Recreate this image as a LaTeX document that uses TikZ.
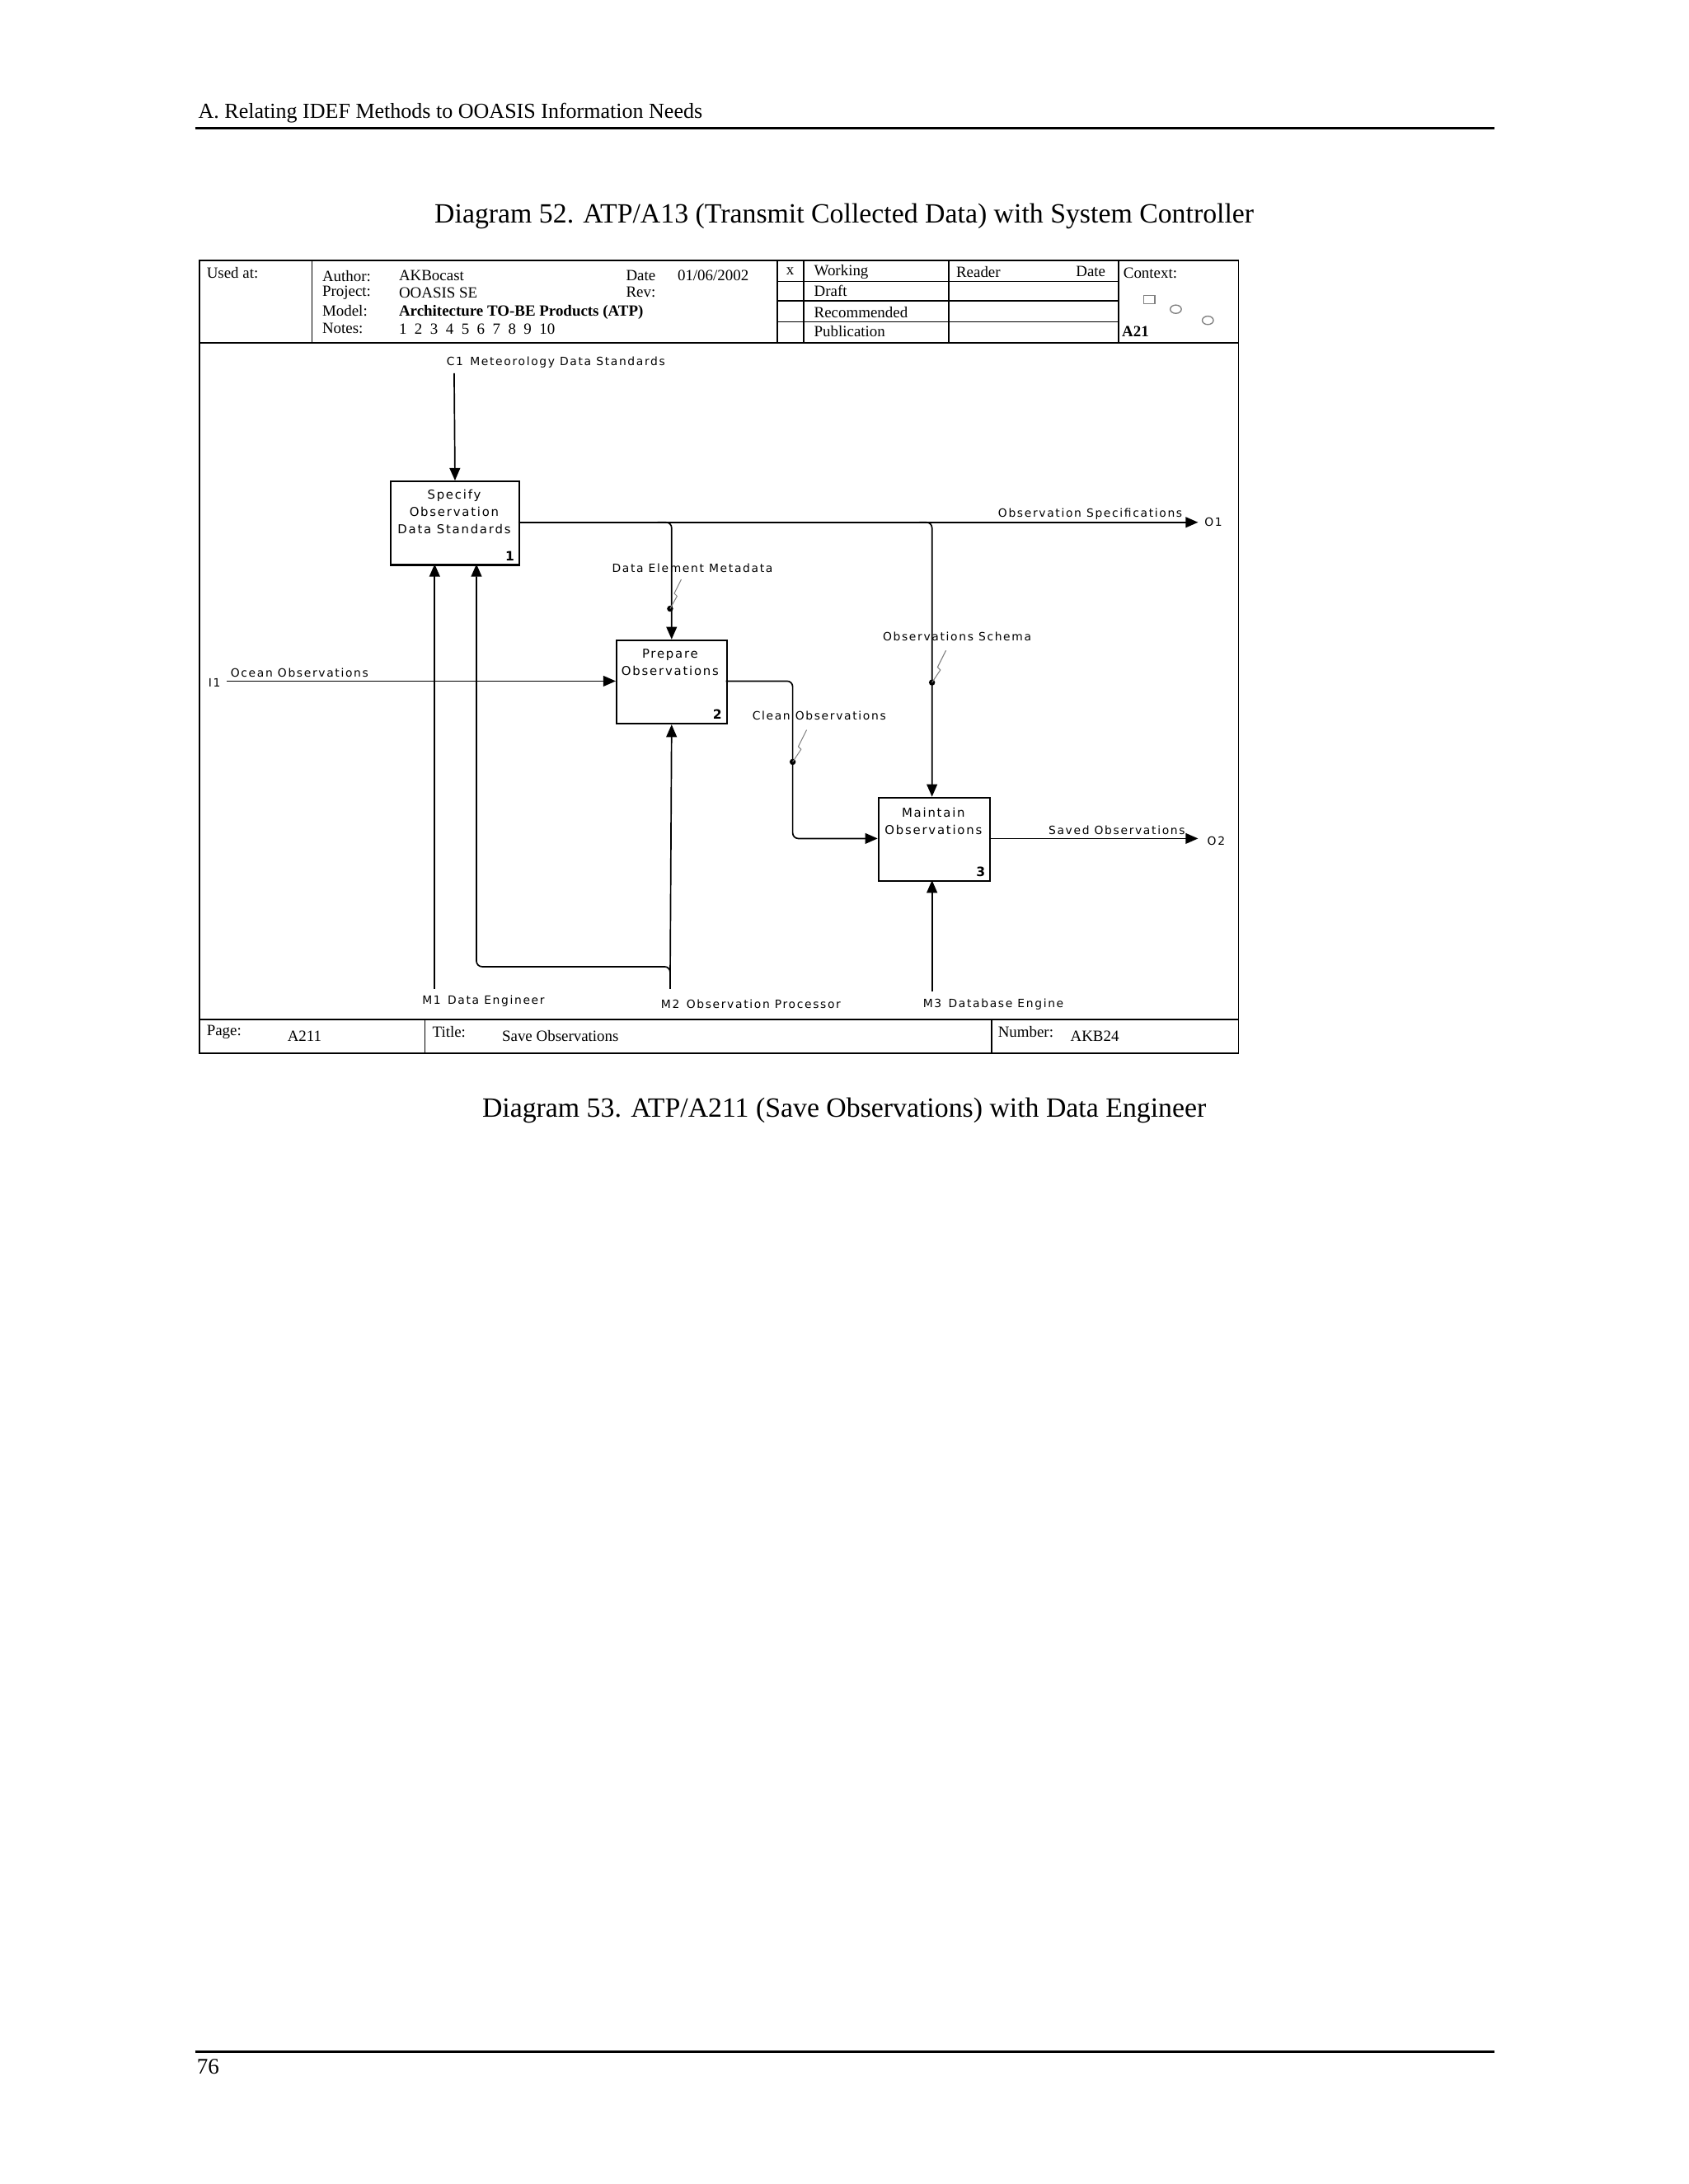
\documentclass[tikz,border=0pt]{standalone}
\usepackage{fontspec}
\setmainfont{Liberation Serif}
\newfontfamily\dia[LetterSpace=12]{DejaVu Sans}
\usetikzlibrary{arrows.meta}
\begin{document}
\begin{tikzpicture}[x=0.5pt,y=-0.5pt,
  frame/.style={line width=0.5pt},
  act/.style={draw,line width=0.6pt,minimum width=40pt,minimum height=30pt,anchor=north west,inner sep=0},
  lab/.style={font=\dia\fontsize{4.1}{5.6}\selectfont,inner sep=0.5pt},
  blab/.style={font=\dia\fontsize{4.4}{6.3}\selectfont,inner sep=0.5pt,align=center},
  num/.style={font=\dia\bfseries\fontsize{4.6}{5}\selectfont,inner sep=0},
  tlab/.style={font=\fontsize{5.6}{6}\selectfont,anchor=west,inner sep=0},
  arr/.style={line width=0.5pt,-{Triangle[length=4.5pt,width=3.8pt]},rounded corners=2pt},
  dot/.style={circle,fill,inner sep=0,minimum size=2.2pt},
  sq/.style={gray,line width=0.3pt}]
\useasboundingbox (0,0) rectangle (1212,1568);
% page header/footer
\node[anchor=west,font=\fontsize{7.7}{9}\selectfont,inner sep=0] (hdr) at (142,81) {A. Relating IDEF Methods to OOASIS Information Needs};
\draw[line width=0.8pt] (140,92) -- (1073,92);
\node[font=\fontsize{10}{12}\selectfont] (cap1) at (606,155) {Diagram 52. ATP/A13 (Transmit Collected Data) with System Controller};
\node[font=\fontsize{10}{12}\selectfont] (cap2) at (606,797) {Diagram 53. ATP/A211 (Save Observations) with Data Engineer};
\draw[line width=0.8pt] (140,1473) -- (1073,1473);
\node[anchor=west,font=\fontsize{8}{10}\selectfont,inner sep=0] (pg) at (141,1484) {76};
% frame
\draw[frame] (143,187) rectangle (889,756);
\draw[frame] (143,246) -- (889,246);
\draw[frame] (143,732) -- (889,732);
\foreach \x in {224,558,577,681,803} \draw[frame] (\x,187) -- (\x,246);
\foreach \y in {202,216,231} \draw[frame] (558,\y) -- (803,\y);
\draw[frame] (305,732) -- (305,756);
\draw[frame] (712,732) -- (712,756);
\node[tlab] (ua) at (148,196) {Used at:};
\node[tlab] (au) at (231,198) {Author:};
\node[tlab] (pr) at (231,210) {Project:};
\node[tlab] (mo) at (231,223) {Model:};
\node[tlab] (no) at (231,236) {Notes:};
\node[tlab] (auv) at (286,198) {AKBocast};
\node[tlab] (prv) at (286,210) {OOASIS SE};
\node[tlab,font=\bfseries\fontsize{5.6}{6}\selectfont] (mov) at (286,224) {Architecture TO-BE Products (ATP)};
\node[tlab] (nov) at (286,236) {1\ \ 2\ \ 3\ \ 4\ \ 5\ \ 6\ \ 7\ \ 8\ \ 9\ \ 10};
\node[tlab] (dt) at (449,198) {Date};
\node[tlab] (dtv) at (486,198) {01/06/2002};
\node[tlab] (rv) at (449,210) {Rev:};
\node[tlab] (xx) at (564,195) {x};
\node[tlab] (wk) at (584,195) {Working};
\node[tlab] (df) at (584,209) {Draft};
\node[tlab] (rc) at (584,224) {Recommended};
\node[tlab] (pb) at (584,238) {Publication};
\node[tlab] (rd) at (686,195) {Reader};
\node[tlab] (rdd) at (772,195) {Date};
\node[tlab] (cx) at (806,196) {Context:};
\node[tlab,font=\bfseries\fontsize{5.6}{6}\selectfont] (a21) at (805,238) {A21};
\draw[gray,line width=0.4pt] (821,212) rectangle (829,218);
\draw[gray,line width=0.4pt] (844,222) ellipse (4 and 3);
\draw[gray,line width=0.4pt] (867,230) ellipse (4 and 3);
\node[tlab] (pgl) at (148,741) {Page:};
\node[tlab] (pgv) at (206,744) {A211};
\node[tlab] (tt) at (310,741) {Title:};
\node[tlab] (ttv) at (360,744) {Save Observations};
\node[tlab] (nb) at (716,741) {Number:};
\node[tlab] (nbv) at (768,744) {AKB24};
% activity boxes
\node[act,minimum width=46pt] (b1) at (280,345) {};
\node[blab] at (326,367.5) {Specify\\Observation\\Data Standards};
\node[num] at (366,399) {1};
\node[act,minimum width=39.5pt] (b2) at (442,459) {};
\node[blab] at (481,475.5) {Prepare\\Observations};
\node[num] at (515,513) {2};
\node[act] (b3) at (630,572) {};
\node[blab] at (670,589.5) {Maintain\\Observations};
\node[num] at (704,626) {3};
% coordinates
\coordinate (c1s) at (326,268);
\coordinate (o1) at (860,375);
\coordinate (o2) at (860,602);
\coordinate (i1) at (163,489);
\coordinate (m1) at (312,710);
\coordinate (m2) at (481,710);
\coordinate (m3) at (669,712);
% arrows
\draw[arr] (c1s) -- (b1.north);
\draw[arr] (372,375) -- (o1);
\draw[arr] (472,375) -| (b2.north);
\draw[arr] (660,375) -| (669,572);
\draw[arr] (i1) -- (442,489);
\draw[arr] (521,489) -| (569,602) -- (630,602);
\draw[arr] (710,602) -- (o2);
\draw[arr] (m1) -- (312,405);
\draw[arr] (m2) -- (b2.south);
\draw[arr] (481,702) |- (342,694) -- (342,405);
\draw[arr] (m3) -- (669,632);
% dots and squiggles
\node[dot] (d1) at (481,437) {};
\node[dot] (d2) at (669,490) {};
\node[dot] (d3) at (569,547) {};
\draw[sq] (d1.center) -- (486,428) -- (484,426) -- (489,416);
\draw[sq] (d2.center) -- (675,481) -- (673,479) -- (679,467);
\draw[sq] (d3.center) -- (575,538) -- (573,536) -- (579,524);
% labels
\node[lab] at (399,260) {C1\, Meteorology Data Standards};
\node[lab,anchor=east] at (850,369) {Observation Specifications};
\node[lab] at (871,375) {O1};
\node[lab] at (497,408) {Data Element Metadata};
\node[lab] at (687,457) {Observations Schema};
\node[lab] at (154,490) {I1};
\node[lab] at (215,483) {Ocean Observations};
\node[lab] at (588,514) {Clean Observations};
\node[lab,anchor=east] at (852,596) {Saved Observations};
\node[lab] at (873,604) {O2};
\node[lab] at (347,719) {M1\, Data Engineer};
\node[lab] at (539,721) {M2\, Observation Processor};
\node[lab] at (713,721) {M3\, Database Engine};
\end{tikzpicture}
\end{document}
